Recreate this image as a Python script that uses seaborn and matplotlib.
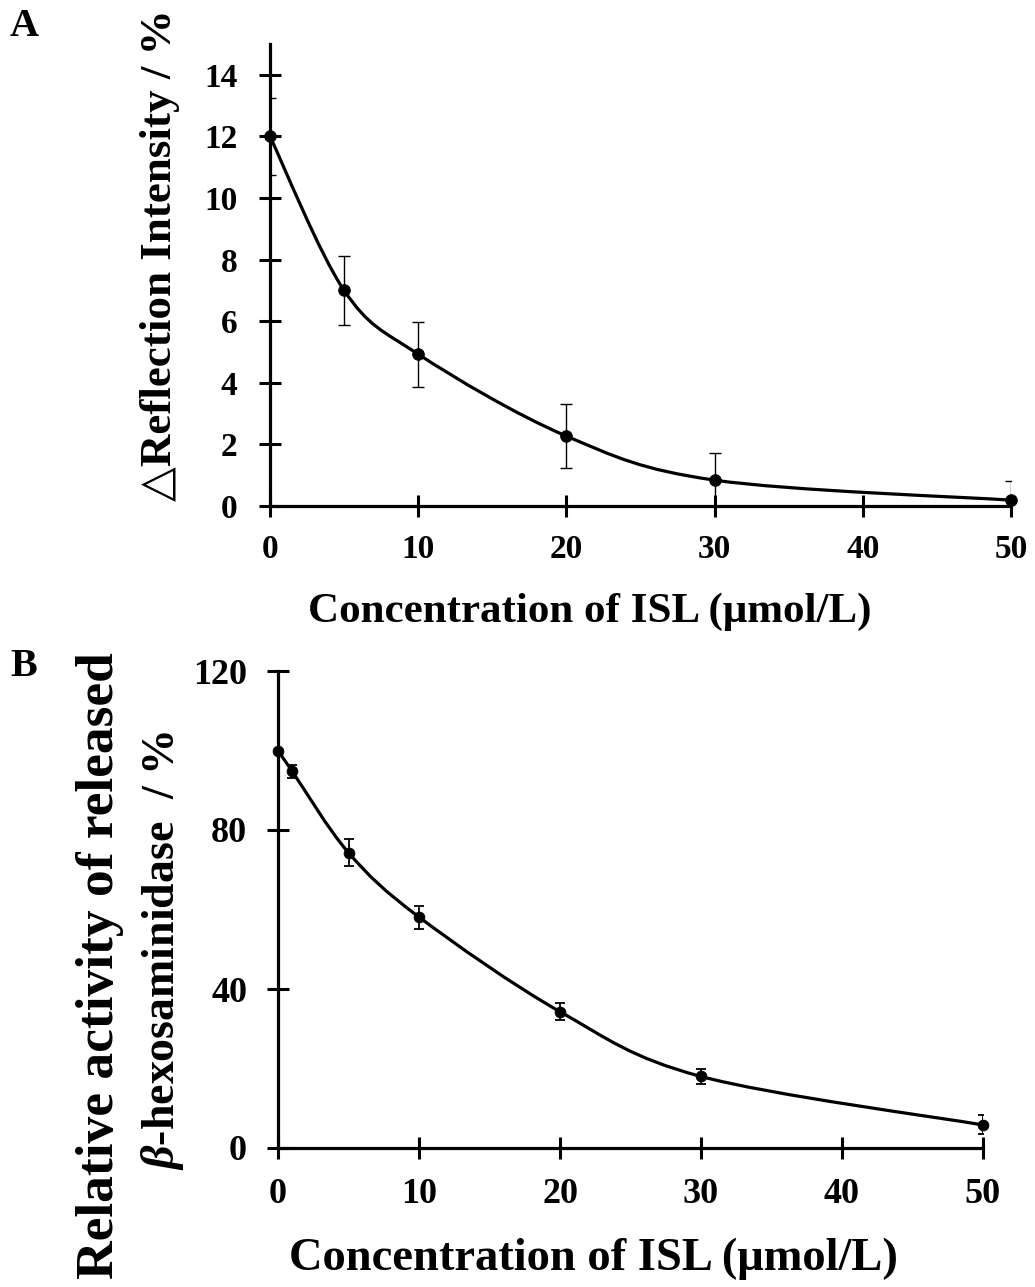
import numpy as np
import matplotlib
matplotlib.use("Agg")
import matplotlib.pyplot as plt
import seaborn as sns
import pandas as pd
from matplotlib.path import Path
from matplotlib.patches import PathPatch

# ---- data ----
conc_a = [0, 5, 10, 20, 30, 50]
refl_a = [12.0, 7.0, 4.93, 2.27, 0.84, 0.19]
err_a = [1.25, 1.12, 1.06, 1.03, 0.88, 0.62]

conc_b = [0, 1, 5, 10, 20, 30, 50]
act_b = [100.0, 94.8, 74.3, 58.1, 34.3, 18.0, 5.8]
err_b = [0.0, 1.6, 3.4, 2.9, 2.2, 2.0, 2.4]

xticks = [0, 10, 20, 30, 40, 50]
yticks_a = [0, 2, 4, 6, 8, 10, 12, 14]
yticks_b = [0, 40, 80, 120]

xlabel_text = 'Concentration of ISL (μmol/L)'
ylabel_a = '△Reflection Intensity / %'
ylabel_b1 = 'Relative activity of released'
ylabel_b2 = '$\\mathbfit{\\beta}$-hexosaminidase  / %'

sns.set_theme(style="white")
plt.rcParams['font.family'] = ['Liberation Serif', 'DejaVu Serif']
plt.rcParams['font.weight'] = 'bold'
plt.rcParams['text.color'] = 'black'
plt.rcParams['axes.labelcolor'] = 'black'
plt.rcParams['xtick.color'] = 'black'
plt.rcParams['ytick.color'] = 'black'
plt.rcParams['mathtext.fontset'] = 'custom'
plt.rcParams['mathtext.rm'] = 'Liberation Serif:bold'
plt.rcParams['mathtext.bfit'] = 'Liberation Serif:italic:bold'
plt.rcParams['mathtext.it'] = 'Liberation Serif:italic:bold'
plt.rcParams['mathtext.bf'] = 'Liberation Serif:bold'

W, H = 1035, 1287
fig = plt.figure(figsize=(W / 100, H / 100), dpi=100)
fig.patch.set_facecolor('white')


def ax_rect(l, t, r, b):
    return [l / W, 1 - b / H, (r - l) / W, (b - t) / H]


def fx(px):
    return px / W


def fy(py):
    return 1 - py / H


def smooth_curve(ax, xs, ys, lw):
    pts = np.column_stack([xs, ys]).astype(float)
    n = len(pts)
    verts = [tuple(pts[0])]
    codes = [Path.MOVETO]
    for i in range(n - 1):
        p0 = pts[i - 1] if i > 0 else pts[i]
        p1 = pts[i]
        p2 = pts[i + 1]
        p3 = pts[i + 2] if i + 2 < n else pts[i + 1]
        c1 = p1 + (p2 - p0) / 6.0
        c2 = p2 - (p3 - p1) / 6.0
        verts += [tuple(c1), tuple(c2), tuple(p2)]
        codes += [Path.CURVE4] * 3
    patch = PathPatch(Path(verts, codes), facecolor='none', edgecolor='black',
                      lw=lw, zorder=3, capstyle='round', joinstyle='round')
    ax.add_patch(patch)


def style_axes(ax, yticks, ylim, labelsize, xpad, ypad):
    for s in ['top', 'right']:
        ax.spines[s].set_visible(False)
    for s in ['left', 'bottom']:
        ax.spines[s].set_linewidth(2.3)
        ax.spines[s].set_color('black')
    ax.set_xlim(0, 50)
    ax.set_ylim(*ylim)
    ax.set_xticks(xticks)
    ax.set_yticks(yticks)
    ax.tick_params(axis='both', direction='inout', length=16.5, width=2.2,
                   colors='black', labelcolor='black', labelsize=labelsize,
                   bottom=True, left=True, top=False, right=False)
    ax.tick_params(axis='x', pad=xpad)
    ax.tick_params(axis='y', pad=ypad)
    for lab in ax.get_xticklabels() + ax.get_yticklabels():
        lab.set_fontweight('bold')
    ax.set_facecolor('white')
    ax.grid(False)


# ---- Panel A ----
axA = fig.add_axes(ax_rect(270, 44, 1011, 506))
dfa = pd.DataFrame({'conc': conc_a, 'val': refl_a})
axA.errorbar(conc_a, refl_a, yerr=err_a, fmt='none', ecolor='black',
             elinewidth=1.0, capsize=4.3, capthick=1.0, zorder=2)
smooth_curve(axA, conc_a, refl_a, 2.3)
sns.scatterplot(data=dfa, x='conc', y='val', ax=axA, color='black', s=70,
                edgecolor='black', zorder=4, clip_on=False)
style_axes(axA, yticks_a, (0, 15), 24, 12, 15)
axA.set_xlabel('')
axA.set_ylabel('')
fig.text(fx(590), fy(612), xlabel_text, fontsize=31, fontweight='bold',
         ha='center', va='center')
fig.text(fx(160), fy(255), ylabel_a, fontsize=32.5, fontweight='bold',
         ha='center', va='center', rotation=90)

# ---- Panel B ----
axB = fig.add_axes(ax_rect(278, 671, 983, 1148))
dfb = pd.DataFrame({'conc': conc_b, 'val': act_b})
axB.errorbar(conc_b, act_b, yerr=err_b, fmt='none', ecolor='black',
             elinewidth=1.3, capsize=3.8, capthick=1.3, zorder=2)
smooth_curve(axB, conc_b, act_b, 2.3)
sns.scatterplot(data=dfb, x='conc', y='val', ax=axB, color='black', s=60,
                edgecolor='black', zorder=4, clip_on=False)
style_axes(axB, yticks_b, (0, 120), 26, 13, 14)
axB.set_xlabel('')
axB.set_ylabel('')
fig.text(fx(593), fy(1259), xlabel_text, fontsize=33.5, fontweight='bold',
         ha='center', va='center')
fig.text(fx(100), fy(966), ylabel_b1, fontsize=38.5, fontweight='bold',
         ha='center', va='center', rotation=90)
fig.text(fx(162), fy(950), ylabel_b2, fontsize=33, fontweight='bold',
         ha='center', va='center', rotation=90)

# panel letters
fig.text(fx(10), fy(27), 'A', fontsize=29, fontweight='bold', va='center', ha='left')
fig.text(fx(10), fy(666), 'B', fontsize=29, fontweight='bold', va='center', ha='left')

fig.savefig('out.png', dpi=100, facecolor='white')
